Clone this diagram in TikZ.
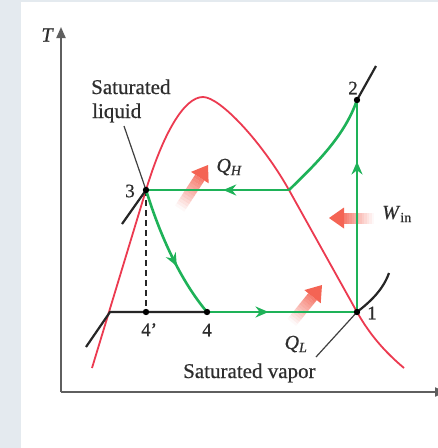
\documentclass[tikz,border=0pt]{standalone}
\usepackage{fontspec}
\setmainfont{Liberation Serif}[FakeBold=0.6]
\usetikzlibrary{arrows.meta,decorations.markings}
\definecolor{dome}{RGB}{236,58,80}
\definecolor{cyc}{RGB}{30,178,88}
\definecolor{heat}{RGB}{244,100,84}
\definecolor{axisgray}{RGB}{95,95,95}
\definecolor{panel}{RGB}{228,234,239}
\definecolor{txt}{RGB}{45,45,45}
\newcommand{\heatarrow}[4]{%
\begin{scope}[shift={(#1,#2)},rotate=#3]
 \foreach \i [evaluate=\i as \op using 0.07*\i+0.04] in {0,...,11}{%
   \fill[heat,fill opacity=\op] ({-#4+(#4-15)*\i/12},-5.5) rectangle ({-#4+(#4-15)*(\i+1)/12},5.5);}
 \fill[heat] (0,0) -- (-15,-10.5) -- (-15,10.5) -- cycle;
\end{scope}}
\tikzset{
  lbl/.style={text=txt,font=\fontsize{21}{24}\selectfont,inner sep=0pt},
  num/.style={text=txt,font=\fontsize{19}{22}\selectfont,inner sep=0pt},
  cyclepath/.style={cyc,line width=2.6},
  blk/.style={black!85,line width=2.2},
  pointer/.style={black!75,line width=1.2},
  marrow/.style={postaction={decorate,decoration={markings,mark=at position #1 with {\arrow{Stealth[length=13,width=11,color=cyc]}}}}}
}
\begin{document}
\begin{tikzpicture}[x=1pt,y=-1pt]
\useasboundingbox (0,0) rectangle (438,448);
\fill[white] (0,0) rectangle (438,448);
\fill[panel] (0,0) rectangle (21,448);
\fill[panel] (0,0) rectangle (438,2);
% coordinates
\coordinate (O) at (61,392);
\coordinate (Ytop) at (61,27);
\coordinate (Xend) at (446,392);
\coordinate (p1) at (357,312);
\coordinate (p2) at (357,100);
\coordinate (p3) at (146,190);
\coordinate (p4) at (207,312);
\coordinate (p4p) at (146,312);
\coordinate (sv) at (289,190);
\coordinate (sl) at (110,312);
\coordinate (liqend) at (124,126);
\coordinate (vapend) at (316,357);
\coordinate (peak) at (203,97);
% axes
\draw[axisgray,line width=2,-{Triangle[length=11,width=9]}] (O) -- (Ytop);
\draw[axisgray,line width=2,-{Triangle[length=11,width=9]}] (O) -- (Xend);
\node[lbl,font=\fontsize{20}{24}\selectfont\itshape] (T) at (47,35) {T};
% dome
\draw[dome,line width=1.8] (92,368) -- (p3) .. controls (163,134) and (184,97) .. (peak)
  .. controls (220,97) and (262,142) .. (sv) -- (p1) .. controls (370,335) and (385,352) .. (404,368);
% heat arrows
\heatarrow{208}{165}{57}{52}
\heatarrow{322}{285}{51}{48}
\heatarrow{329}{218}{180}{45}
% black lines
\draw[pointer] (liqend) -- (p3);
\draw[blk] (p3) -- (122,224);
\draw[blk] (86,347) -- (sl) -- (p4);
\draw[blk] (p1) .. controls (370,302) and (383,290) .. (389,273);
\draw[blk] (p2) -- (376,66);
\draw[pointer] (vapend) -- (p1);
\draw[black!85,line width=1.6,dash pattern=on 6pt off 4pt] (p3) -- (p4p);
% cycle
\draw[cyclepath,marrow=0.46] (sv) -- (p3);
\draw[cyclepath] (sv) .. controls (318,162) and (345,135) .. (p2);
\draw[cyclepath,marrow=0.71] (p1) -- (p2);
\draw[cyclepath,marrow=0.41] (p4) -- (p1);
\draw[cyclepath,marrow=0.6] (p3) .. controls (160,235) and (180,280) .. (p4);
% dots
\foreach \p in {p1,p2,p3,p4,p4p} \fill[black] (\p) circle (3.2);
% labels
\node[lbl,anchor=base west] (satl1) at (91,94) {Saturated};
\node[lbl,anchor=base west] (satl2) at (92,118) {liquid};
\node[lbl,anchor=base west] (satv) at (183,378) {Saturated vapor};
\node[num] (n3) at (130,191) {3};
\node[num] (n2) at (353,88) {2};
\node[num] (n1) at (372,313) {1};
\node[num] (n4) at (207,330) {4};
\node[num,anchor=base west] (n4p) at (141,336) {4’};
\node[lbl,font=\fontsize{20}{24}\selectfont\itshape] (QH) at (229,167) {Q\textsubscript{H}};
\node[lbl,font=\fontsize{20}{24}\selectfont] (Win) at (397,214) {\textit{W}\textsubscript{in}};
\node[lbl,font=\fontsize{20}{24}\selectfont\itshape] (QL) at (296,344) {Q\textsubscript{L}};
\end{tikzpicture}
\end{document}
